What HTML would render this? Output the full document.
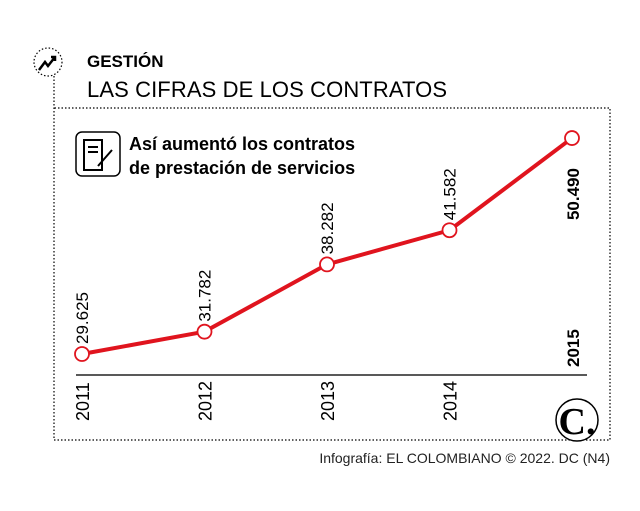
<!DOCTYPE html>
<html><head><meta charset="utf-8"><style>
body{margin:0;width:640px;height:506px;background:#fff;overflow:hidden;font-family:"Liberation Sans",sans-serif}
</style></head><body>
<svg width="640" height="506" viewBox="0 0 640 506">
<g>
<circle cx="48" cy="62" r="14" fill="none" stroke="#000" stroke-width="1.2" stroke-dasharray="1.5 2"/>
<path d="M39 70 L45 62 L48 66 L55 57 M51 57 L55 57 L55 61" fill="none" stroke="#000" stroke-width="2.5"/>
<text x="87" y="67" font-size="17" font-weight="bold">GESTIÓN</text>
<text x="87" y="97" font-size="22" textLength="360">LAS CIFRAS DE LOS CONTRATOS</text>
</g>
<path d="M54 76 V440 H610 V108 H54" fill="none" stroke="#000" stroke-width="1.2" stroke-dasharray="1.5 2"/>
<rect x="76" y="132" width="44" height="44" rx="6" fill="none" stroke="#000" stroke-width="1.5"/>
<path d="M84 140 h18 v30 h-18 z M88 147 h10 M88 152 h10 M98 166 l14 -16" fill="none" stroke="#000" stroke-width="2"/>
<text font-size="18" font-weight="bold"><tspan x="129" y="150">Así aumentó los contratos</tspan><tspan x="129" y="174">de prestación de servicios</tspan></text>
<g id="chart"></g>
<circle cx="577" cy="420" r="21" fill="#fff" stroke="#000" stroke-width="1.5"/>
<text x="577" y="434" font-size="38" font-weight="bold" font-family="Liberation Serif,serif" text-anchor="middle">C.</text>
<text x="610" y="463" font-size="14" text-anchor="end" fill="#222">Infografía: EL COLOMBIANO © 2022. DC (N4)</text>
</svg>
<script>
const years=["2011","2012","2013","2014","2015"];
const values=[29625,31782,38282,41582,50490];
const labels=["29.625","31.782","38.282","41.582","50.490"];
const NS="http://www.w3.org/2000/svg";
const g=document.getElementById('chart');
const xs=i=>82+i*122.5;
const ys=v=>354-(v-29625)*0.01035;
function mk(t,a){const e=document.createElementNS(NS,t);for(const k in a)e.setAttribute(k,a[k]);g.appendChild(e);return e;}
const ax=mk('line',{x1:76,x2:587,y1:375,y2:375,stroke:'#222','stroke-width':1.5});


const pl=mk('polyline',{points:values.map((v,i)=>xs(i)+','+ys(v)).join(' '),fill:'none',stroke:'#e0141e','stroke-width':4,'stroke-linejoin':'round'});


values.forEach((v,i)=>{
const x=xs(i),y=ys(v),last=i===values.length-1;
const c=mk('circle',{cx:x,cy:y,r:7,fill:'#fff',stroke:'#e0141e','stroke-width':1.8});


const t=mk('text',{transform:last?`translate(${x+7},${y+30}) rotate(-90)`:`translate(${x+6},${y-10}) rotate(-90)`,'font-size':17,'text-anchor':last?'end':'start','font-weight':last?'bold':'normal'});
t.textContent=labels[i];


const yl=mk('text',last?{transform:`translate(${x+7},367) rotate(-90)`,'font-size':17,'font-weight':'bold'}:{transform:`translate(${x+7},421) rotate(-90)`,'font-size':18});
yl.textContent=years[i];


});
</script>
</body></html>
